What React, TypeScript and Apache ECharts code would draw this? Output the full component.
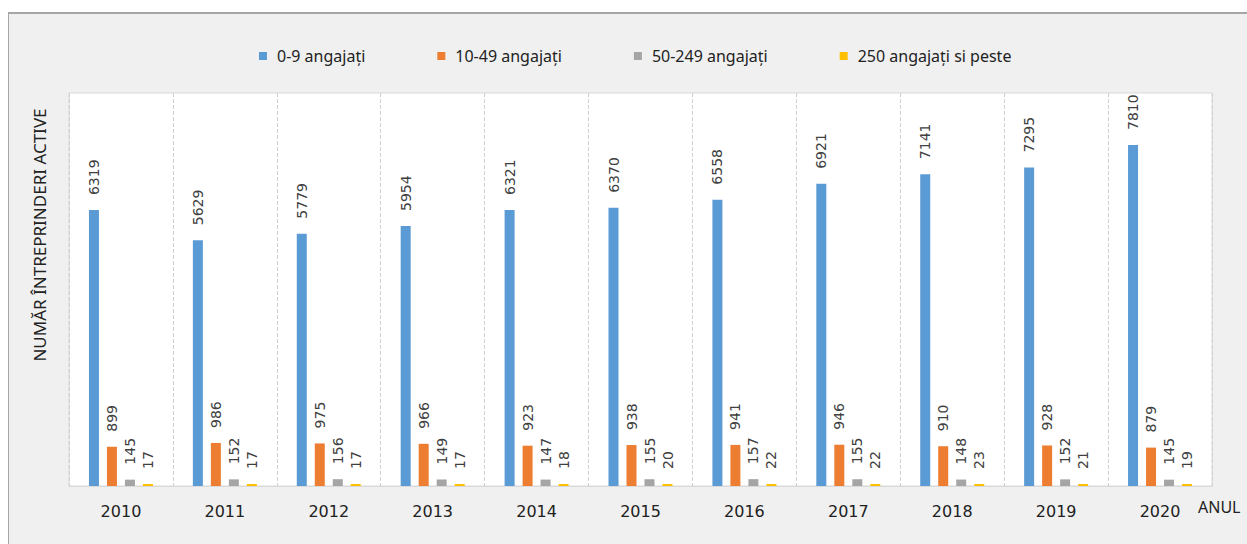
import React, { useEffect, useRef } from "react";
import * as echarts from "echarts";

const years = ["2010", "2011", "2012", "2013", "2014", "2015", "2016", "2017", "2018", "2019", "2020"];
const micro = [6319, 5629, 5779, 5954, 6321, 6370, 6558, 6921, 7141, 7295, 7810];
const small = [899, 986, 975, 966, 923, 938, 941, 946, 910, 928, 879];
const medium = [145, 152, 156, 149, 147, 155, 157, 155, 148, 152, 145];
const large = [17, 17, 17, 17, 18, 20, 22, 22, 23, 21, 19];
const seriesNames = ["0-9 angajați", "10-49 angajați", "50-249 angajați", "250 angajați si peste"];
const colors = ["#5b9bd5", "#ed7d31", "#a5a5a5", "#ffc000"];
const yTitle = "NUMĂR ÎNTREPRINDERI ACTIVE";
const xTitle = "ANUL";

export default function App() {
  const ref = useRef<HTMLDivElement>(null);
  useEffect(() => {
    if (!ref.current) return;
    const chart = echarts.init(ref.current, undefined, { renderer: "svg" });
    const values = [micro, small, medium, large];
    const label = {
      show: true,
      position: "top",
      rotate: 90,
      distance: 15,
      align: "left",
      verticalAlign: "middle",
      fontFamily: "DejaVu Sans",
      fontSize: 14,
      color: "#404040",
    };
    chart.setOption({
      animation: false,
      color: colors,
      textStyle: { fontFamily: "Noto Sans" },
      legend: {
        data: seriesNames,
        left: 254,
        top: 43,
        itemWidth: 8,
        itemHeight: 8,
        itemGap: 72,
        icon: "rect",
        textStyle: { fontFamily: "Noto Sans", fontSize: 16, color: "#222", padding: [0, 0, 0, 5] },
      },
      grid: {
        left: 69,
        top: 93,
        right: 35,
        bottom: 58,
        show: true,
        backgroundColor: "#ffffff",
        borderColor: "#d9d9d9",
        borderWidth: 1,
      },
      xAxis: {
        type: "category",
        data: years,
        axisLine: { show: true, lineStyle: { color: "#d9d9d9" } },
        axisTick: { show: false },
        axisLabel: { margin: 17, fontFamily: "DejaVu Sans", fontSize: 16, color: "#222" },
        splitLine: { show: true, lineStyle: { color: "#d0d0d0", type: "dashed" } },
      },
      yAxis: {
        type: "value",
        min: 0,
        max: 9000,
        axisLabel: { show: false },
        axisLine: { show: false },
        axisTick: { show: false },
        splitLine: { show: false },
      },
      graphic: [
        {
          type: "text",
          x: 39,
          y: 235,
          rotation: Math.PI / 2,
          style: {
            text: yTitle,
            fill: "#222",
            font: "17px 'Noto Sans'",
            textAlign: "center",
            textVerticalAlign: "middle",
          },
        },
        {
          type: "text",
          x: 1198,
          y: 507,
          style: {
            text: xTitle,
            fill: "#222",
            font: "16px 'Noto Sans'",
            textAlign: "left",
            textVerticalAlign: "middle",
          },
        },
      ],
      series: seriesNames.map((name, i) => ({
        name,
        type: "bar",
        data: values[i],
        barWidth: 10,
        barGap: "80%",
        barMinHeight: 2,
        label,
      })),
    });
    return () => chart.dispose();
  }, []);
  return (
    <div style={{ position: "absolute", left: 0, top: 0, width: 1247, height: 544, overflow: "hidden", background: "#fff" }}>
      <div
        style={{
          position: "absolute",
          left: 8,
          top: 12,
          width: 1260,
          height: 560,
          background: "#f0f0f0",
          borderTop: "2px solid #a6a6a6",
          borderLeft: "1px solid #a6a6a6",
        }}
      />
      <div ref={ref} style={{ position: "absolute", left: 0, top: 0, width: 1247, height: 544 }} />
    </div>
  );
}
